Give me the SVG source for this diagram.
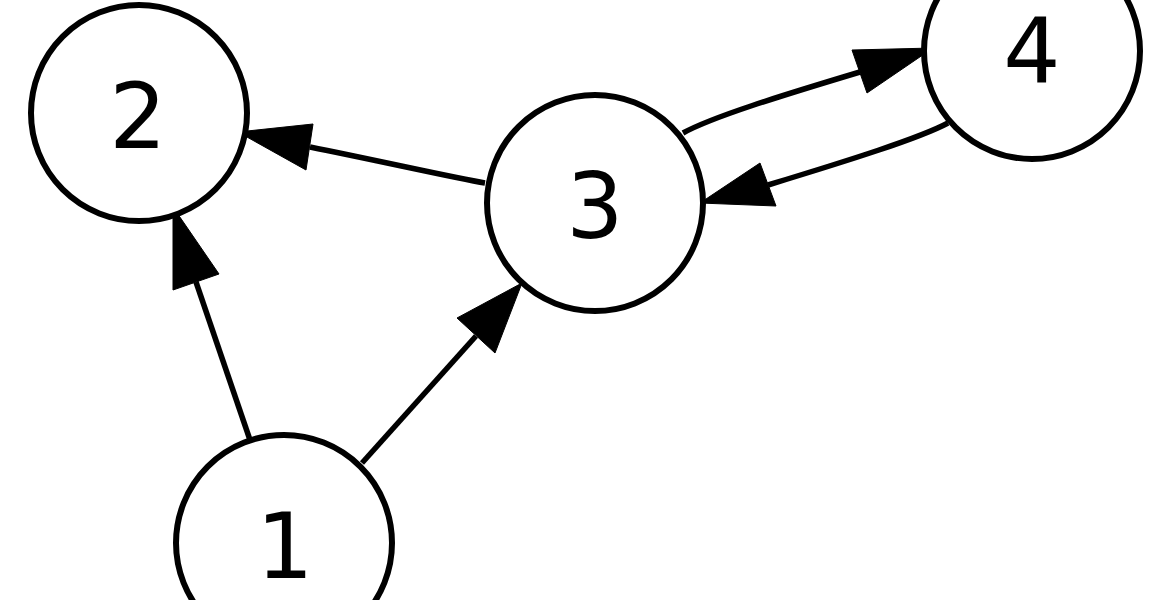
<svg xmlns="http://www.w3.org/2000/svg" width="1170" height="600" viewBox="0 0 1170 600">
<style>
.node circle{fill:#fff;stroke:#000;stroke-width:6}
.node text{font-family:"DejaVu Sans",sans-serif;font-size:90px;text-anchor:middle;fill:#000}
.edge path{fill:none;stroke:#000;stroke-width:5.5}
.edge polygon{fill:#000;stroke:#000;stroke-width:1}
</style>
<rect width="1170" height="600" fill="#fff"/>
<g id="connectors">
<g class="edge" id="e3-2"><path d="M485,183 C455,178 380,161 310,147"/><polygon points="238,132 313,124 306,170"/></g>
<g class="edge" id="e1-2"><path d="M250,440 L196,282"/><polygon points="173,207 173,290 219,274"/></g>
<g class="edge" id="e1-3"><path d="M362,463 L476,336"/><polygon points="522,283 457,318 495,353"/></g>
<g class="edge" id="e3-4"><path d="M683,133 C712,117 780,96 860,72"/><polygon points="933,48 852,50 867,93"/></g>
<g class="edge" id="e4-3"><path d="M948,123 C920,138 850,160 768,185"/><polygon points="700,203 760,163 776,206"/></g>
</g>
<g class="node" id="n2"><circle cx="139" cy="113" r="108"/><text x="138" y="148">2</text></g>
<g class="node" id="n3"><circle cx="595" cy="203" r="108"/><text x="595" y="238">3</text></g>
<g class="node" id="n4"><circle cx="1032" cy="51" r="108"/><text x="1032" y="83">4</text></g>
<g class="node" id="n1"><circle cx="284" cy="543" r="108"/><text x="285" y="578">1</text></g>
</svg>
